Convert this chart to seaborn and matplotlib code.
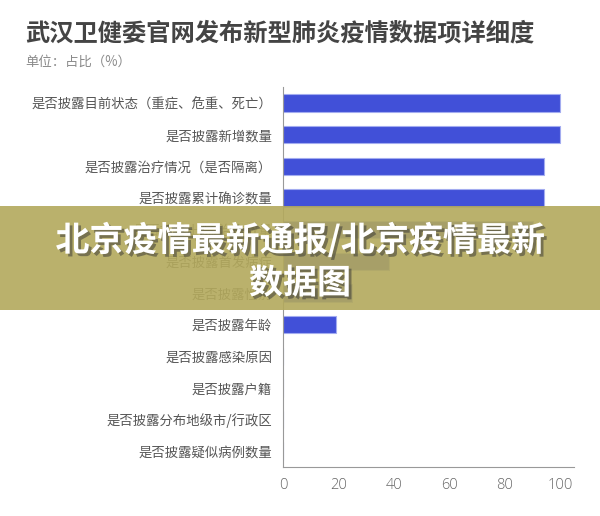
import matplotlib
matplotlib.use('Agg')
import matplotlib.pyplot as plt
import matplotlib.patheffects as pe
from matplotlib.patches import Rectangle
import pandas as pd
import seaborn as sns

items = ['是否披露目前状态（重症、危重、死亡）', '是否披露新增数量', '是否披露治疗情况（是否隔离）',
         '是否披露累计确诊数量', '是否披露出院/治愈数量', '是否披露首发病症', '是否披露性别',
         '是否披露年龄', '是否披露感染原因', '是否披露户籍', '是否披露分布地级市/行政区',
         '是否披露疑似病例数量']
share = [100, 100, 94, 94, 90, 38, 25, 19, 0, 0, 0, 0]
xticks = [0, 20, 40, 60, 80, 100]

sns.set_style('white')
plt.rcParams['font.family'] = ['Noto Sans CJK SC', 'DejaVu Sans']

df = pd.DataFrame({'item': items, 'share': share})

fig = plt.figure(figsize=(6, 5.16), dpi=100)
ax = fig.add_axes([0.472, 0.095, 0.485, 0.736])
sns.barplot(data=df, x='share', y='item', orient='h', color='#4150d8',
            saturation=1, width=0.55, edgecolor='#a3acf0', linewidth=0.8, ax=ax)

ax.set_xlim(0, 105)
ax.set_xticks(xticks)
ax.set_xlabel('')
ax.set_ylabel('')
for s in ['top', 'right']:
    ax.spines[s].set_visible(False)
for s in ['left', 'bottom']:
    ax.spines[s].set_color('#999999')
    ax.spines[s].set_linewidth(0.8)
ax.tick_params(axis='y', length=4, color='#999999', labelsize=9.6, labelcolor='#555555', pad=4)
ax.tick_params(axis='x', length=4, color='#999999', labelsize=10.5, labelcolor='#666666', pad=4)
for t in ax.get_xticklabels():
    t.set_family(['Open Sans', 'DejaVu Sans'])
    t.set_fontweight('light')

fig.text(0.042, 0.935, '武汉卫健委官网发布新型肺炎疫情数据项详细度', fontsize=17.5,
         fontweight='bold', color='#444444', va='center')
fig.text(0.042, 0.88, '单位：占比（%）', fontsize=9.6, color='#8a8a8a', va='center')

# overlay banner
fig.patches.append(Rectangle((0, (516 - 310) / 516), 1, 104 / 516, transform=fig.transFigure,
                             facecolor='#b3a95c', alpha=0.9, edgecolor='none', zorder=5))
shadow = [pe.SimplePatchShadow(offset=(2, -2), shadow_rgbFace='#333333', alpha=0.5), pe.Normal()]
fig.text(0.5, (516 - 240) / 516, '北京疫情最新通报/北京疫情最新', fontsize=24.5, fontweight='black',
         color='white', ha='center', va='center', zorder=6, path_effects=shadow)
fig.text(0.5, (516 - 283) / 516, '数据图', fontsize=24.5, fontweight='black',
         color='white', ha='center', va='center', zorder=6, path_effects=shadow)

fig.savefig('out.png', dpi=100)
